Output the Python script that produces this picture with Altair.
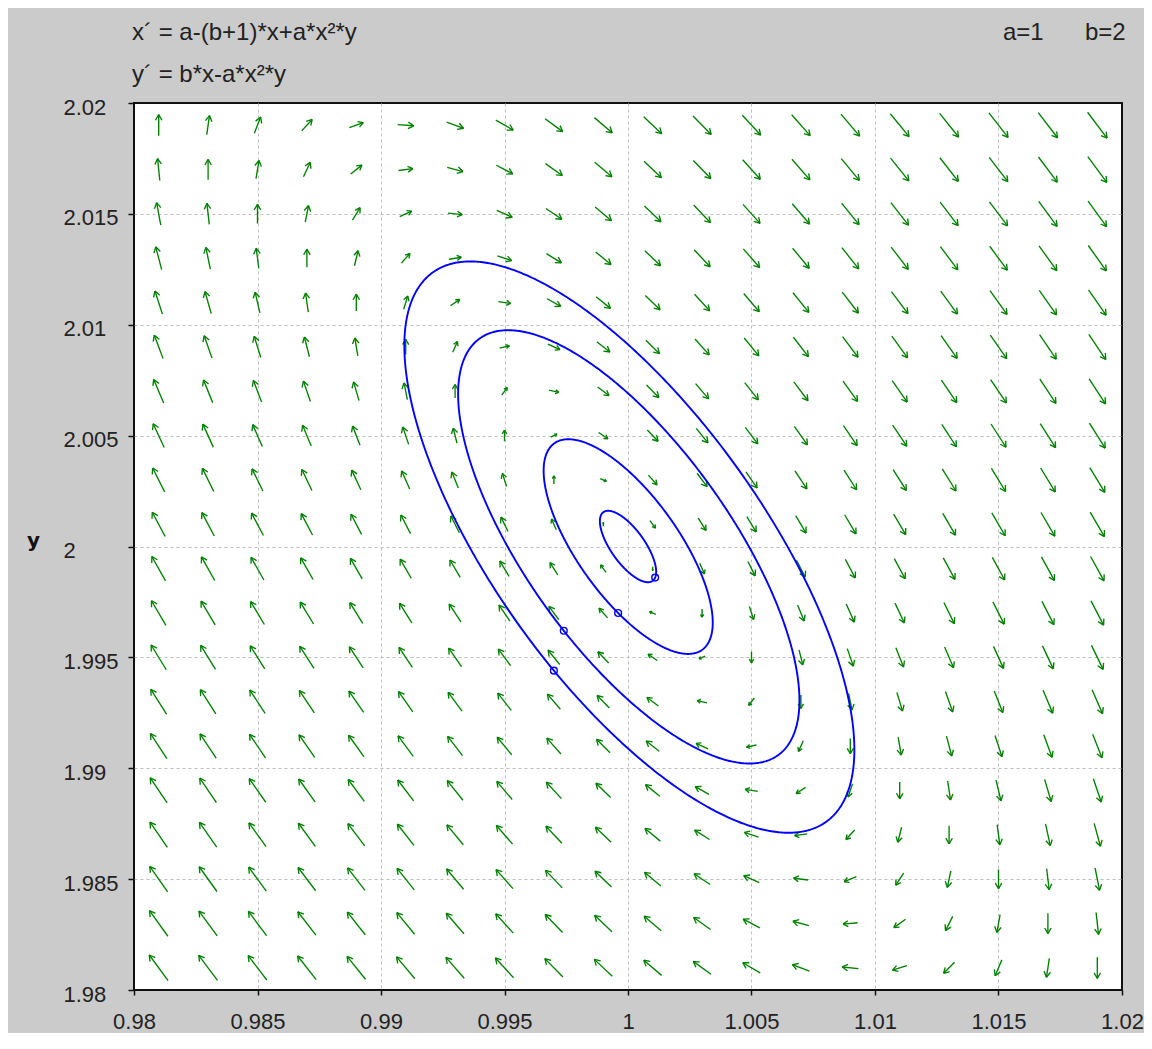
import math
import numpy as np
import pandas as pd
import altair as alt

# ---- values ----
A_PARAM = 1
B_PARAM = 2
EQUATIONS = ["x´ = a-(b+1)*x+a*x²*y", "y´ = b*x-a*x²*y"]
PARAM_TEXT = ["a=1", "b=2"]

# arrow centres of the direction field
GRID_X = [0.981, 0.983, 0.985, 0.987, 0.989, 0.991, 0.993, 0.995, 0.997, 0.999,
          1.001, 1.003, 1.005, 1.007, 1.009, 1.011, 1.013, 1.015, 1.017, 1.019]
GRID_Y = [1.981, 1.983, 1.985, 1.987, 1.989, 1.991, 1.993, 1.995, 1.997, 1.999,
          2.001, 2.003, 2.005, 2.007, 2.009, 2.011, 2.013, 2.015, 2.017, 2.019]

# starting points of the four trajectories (small circles)
START_X = [1.0011, 0.9996, 0.9974, 0.9970]
START_Y = [1.9986, 1.9970, 1.9962, 1.9944]
T_END = 6.45

X_TICKS = [0.98, 0.985, 0.99, 0.995, 1.0, 1.005, 1.01, 1.015, 1.02]
Y_TICKS = [1.98, 1.985, 1.99, 1.995, 2.0, 2.005, 2.01, 2.015, 2.02]
X_DOMAIN = [0.98, 1.02]
Y_DOMAIN = [1.98, 2.02]

# ---- layout / style ----
W, H = 988, 887
FONT = "Liberation Sans"
GREEN = "#007f00"
BLUE = "#0000ff"
sx = W / (X_DOMAIN[1] - X_DOMAIN[0])
sy = H / (Y_DOMAIN[1] - Y_DOMAIN[0])


def field(x, y):
    a, b = A_PARAM, B_PARAM
    return a - (b + 1) * x + a * x * x * y, b * x - a * x * x * y


# direction-field arrows (shaft + two barbs), built from the equations
segs = []
for gx in GRID_X:
    for gy in GRID_Y:
        dx, dy = field(gx, gy)
        m = math.hypot(dx, dy)
        L = 9.0 * math.log(1.0 + m / 0.002)
        px, py = dx * sx, dy * sy
        n = math.hypot(px, py)
        ex, ey = px / n, py / n
        tx, ty = gx + 0.5 * L * ex / sx, gy + 0.5 * L * ey / sy
        bx0, by0 = gx - 0.5 * L * ex / sx, gy - 0.5 * L * ey / sy
        segs.append((bx0, by0, tx, ty))
        hl = min(6.5, 0.4 * L)
        for sgn in (1, -1):
            ang = sgn * math.radians(30)
            rx = ex * math.cos(ang) - ey * math.sin(ang)
            ry = ex * math.sin(ang) + ey * math.cos(ang)
            segs.append((tx, ty, tx - hl * rx / sx, ty - hl * ry / sy))
arrows = pd.DataFrame(segs, columns=["x", "y", "x2", "y2"])

# trajectories integrated from the start points (RK4)
rows = []
dt = 0.01
for k, (x0, y0) in enumerate(zip(START_X, START_Y)):
    x, y = x0, y0
    steps = int(T_END / dt)
    for i in range(steps + 1):
        rows.append((k, i, x, y))
        k1 = field(x, y)
        k2 = field(x + 0.5 * dt * k1[0], y + 0.5 * dt * k1[1])
        k3 = field(x + 0.5 * dt * k2[0], y + 0.5 * dt * k2[1])
        k4 = field(x + dt * k3[0], y + dt * k3[1])
        x += dt / 6 * (k1[0] + 2 * k2[0] + 2 * k3[0] + k4[0])
        y += dt / 6 * (k1[1] + 2 * k2[1] + 2 * k3[1] + k4[1])
traj = pd.DataFrame(rows, columns=["traj", "order", "x", "y"])
starts = pd.DataFrame({"x": START_X, "y": START_Y})

xs = alt.Scale(domain=X_DOMAIN, nice=False, zero=False)
ys = alt.Scale(domain=Y_DOMAIN, nice=False, zero=False)

x_grid_op = alt.condition("datum.value <= 0.9801 || datum.value >= 1.0199",
                          alt.value(0), alt.value(1))
y_grid_op = alt.condition("datum.value <= 1.9801 || datum.value >= 2.0199",
                          alt.value(0), alt.value(1))

x_axis = alt.Axis(values=X_TICKS, format=".3~f", title=None, domain=False,
                  grid=True, gridDash=[3, 3], gridColor="#bdbdbd",
                  gridOpacity=x_grid_op,
                  ticks=True, tickSize=5, tickColor="#111", tickWidth=1.5,
                  labelFont=FONT, labelFontSize=22, labelColor="#222",
                  labelPadding=33, labelBaseline="alphabetic",
                  labelFlush=False, labelOverlap=False)
y_axis = alt.Axis(values=Y_TICKS, format=".3~f", title="y", domain=False,
                  grid=True, gridDash=[3, 3], gridColor="#bdbdbd",
                  gridOpacity=y_grid_op,
                  ticks=True, tickSize=6, tickColor="#111", tickWidth=1.5,
                  labelFont=FONT, labelFontSize=22, labelColor="#222",
                  labelAlign="left", labelPadding=65, labelBaseline="alphabetic",
                  labelOffset=11, labelFlush=False, labelOverlap=False,
                  titleAngle=0, titleX=-101, titleY=437, titleAlign="center",
                  titleBaseline="middle", titleFont="DejaVu Sans",
                  titleFontSize=20, titleFontWeight="bold", titleColor="#111")

arrow_layer = alt.Chart(arrows).mark_rule(color=GREEN, strokeWidth=1.35).encode(
    x=alt.X("x:Q", scale=xs, axis=x_axis),
    y=alt.Y("y:Q", scale=ys, axis=y_axis),
    x2="x2:Q", y2="y2:Q")

traj_layer = alt.Chart(traj).mark_line(color=BLUE, strokeWidth=1.9).encode(
    x=alt.X("x:Q", scale=xs), y=alt.Y("y:Q", scale=ys),
    detail="traj:N", order="order:Q")

start_layer = alt.Chart(starts).mark_point(
    shape="circle", filled=False, color=BLUE, size=46, strokeWidth=1.4, opacity=1
).encode(x=alt.X("x:Q", scale=xs), y=alt.Y("y:Q", scale=ys))

text_layers = []
for line, ypix in zip(EQUATIONS, [-63, -21]):
    text_layers.append(
        alt.Chart(pd.DataFrame({"t": [line]})).mark_text(
            font=FONT, fontSize=24, color="#222", align="left",
            baseline="alphabetic").encode(
            text="t:N", x=alt.value(-2), y=alt.value(ypix)))
for label, xpix in zip(PARAM_TEXT, [869, 951]):
    text_layers.append(
        alt.Chart(pd.DataFrame({"t": [label]})).mark_text(
            font=FONT, fontSize=24, color="#222", align="left",
            baseline="alphabetic").encode(
            text="t:N", x=alt.value(xpix), y=alt.value(-63)))

chart = alt.layer(arrow_layer, traj_layer, start_layer, *text_layers).properties(
    width=W, height=H,
    autosize=alt.AutoSizeParams(type="none"),
    padding={"left": 126, "top": 95, "right": 22, "bottom": 43},
    background="#cbcbcb",
).configure_view(stroke="#111", strokeWidth=2, fill="white")

chart.save("out.html", embed_options={"renderer": "svg", "actions": False})
